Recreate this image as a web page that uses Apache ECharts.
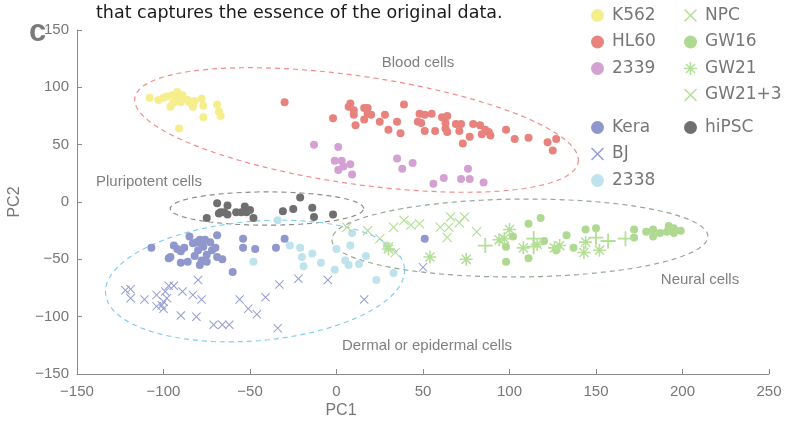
<!DOCTYPE html>
<html>
<head>
<meta charset="utf-8">
<script src="https://cdn.jsdelivr.net/npm/echarts@6/dist/echarts.min.js"></script>
<style>
html,body{margin:0;padding:0;background:#fff;}
#main{width:785px;height:424px;}
</style>
</head>
<body>
<div id="main"></div>
<script>
// ---------- data (PC1, PC2) ----------
const k562 = [[-108,91],[-103,89],[-100,91],[-98,92],[-95,93],[-93,92],[-92,96],[-90,87],[-96,83],[-89,93],[-86,89],[-85,87],[-83,83],[-82,88],[-78,90],[-77,84],[-77,74],[-69,85],[-68,79],[-67,75],[-91,64],[-90,92],[-94,87],[-83,86]];
const hl60 = [[-30,87],[-2,73],[8,86],[7,83],[10,80],[10,76],[11,67],[16,82],[18,82],[18,77],[16,72],[20,76],[25,70],[28,76],[30,63],[35,70],[37,60],[39,85],[48,77],[51,76],[55,77],[47,70],[49,69],[51,62],[57,62],[61,74],[64,75],[63,69],[63,64],[64,61],[69,68],[72,68],[71,62],[79,68],[83,67],[73,51],[77,57],[84,59],[86,63],[88,61],[89,58],[98,63],[103,55],[111,56],[122,52],[127,55],[125,45]];
const c2339 = [[-13,50],[1,48],[-1,36],[3,36],[4,31],[1,28],[8,33],[9,24],[35,38],[38,29],[44,34],[56,16],[62,21],[72,20],[77,20],[76,29],[85,17]];
const kera = [[-107,-40],[-94,-38],[-92,-41],[-90,-43],[-88,-40],[-85,-30],[-83,-36],[-81,-35],[-79,-33],[-78,-36],[-77,-39],[-76,-33],[-80,-42],[-82,-47],[-86,-52],[-90,-53],[-97,-49],[-96,-48],[-79,-55],[-78,-51],[-75,-52],[-75,-46],[-73,-35],[-72,-42],[-69,-29],[-70,-40],[-69,-48],[-66,-50],[-60,-61],[-54,-32],[-54,-40],[-47,-41],[-35,-40],[-30,-32],[51,-32]];
const bj = [[-122,-77],[-119,-76],[-119,-84],[-111,-85],[-104,-81],[-104,-91],[-101,-90],[-100,-93],[-100,-87],[-99,-78],[-98,-84],[-97,-73],[-94,-73],[-89,-78],[-83,-81],[-78,-85],[-80,-68],[-90,-99],[-81,-100],[-71,-107],[-66,-107],[-62,-107],[-56,-85],[-51,-93],[-46,-98],[-41,-83],[-33,-72],[-22,-67],[-5,-68],[-34,-110],[16,-85],[50,-57]];
const c2338 = [[-48,-52],[-34,-16],[-27,-38],[-21,-40],[-20,-48],[-14,-45],[-19,-56],[-9,-53],[-1,-59],[0,-41],[5,-51],[7,-55],[8,-38],[9,-27],[13,-54],[17,-47],[23,-68],[33,-62],[29,-38]];
const npc = [[6,-22],[18,-25],[25,-32],[30,-39],[34,-44],[33,-22],[39,-16],[43,-20],[48,-19],[60,-22],[65,-22],[66,-13],[64,-31],[71,-18],[74,-13],[81,-26]];
const gw16 = [[118,-14],[111,-19],[102,-30],[98,-39],[98,-52],[111,-49],[120,-34],[133,-29],[137,-40],[144,-24],[150,-23],[127,-42],[172,-24],[172,-31],[179,-26],[183,-24],[183,-30],[187,-27],[191,-26],[192,-21],[195,-23],[195,-27],[199,-25]];
const gw21 = [[30,-41],[54,-48],[75,-50],[100,-24],[94,-33],[97,-32],[108,-40],[116,-37],[126,-40],[129,-38],[144,-35],[143,-44],[152,-42]];
const gw21p3 = [[86,-38],[114,-32],[114,-39],[150,-31],[157,-34],[167,-32]];
const hipsc = [[-75,-14],[-69,-1],[-67,-9],[-68,-10],[-65,-9],[-63,-3],[-63,-11],[-58,-9],[-55,-9],[-53,-4],[-52,-9],[-50,-7],[-48,-14],[-31,-8],[-25,-6],[-21,4],[-14,-5],[-13,-13],[-2,-11]];

// ellipses: [centerX, centerY, semiA, semiB (x-units), screen angle deg]
const ellipseNames = ['Blood cells','Pluripotent cells','Dermal or epidermal cells','Neural cells'];
const ellipseParams = [[11.6,62.8,129.5,31.2,-8.2],[-40.2,-5.7,56,9.6,0],[-47.1,-68.9,86.7,34.5,4.8],[106,-31.4,108.7,22.5,0.5]];
const ellipseColors = ['#f28c8c','#8c8c8c','#7fd0ee','#94a894'];

const xTicks = [-150,250,50];
const yTicks = [-150,150,50];

// ---------- symbols ----------
const SYM_X = 'path://M0,0.8L0.8,0L5,4.2L9.2,0L10,0.8L5.8,5L10,9.2L9.2,10L5,5.8L0.8,10L0,9.2L4.2,5Z';
const SYM_STAR = 'path://M0,4.4L10,4.4L10,5.6L0,5.6ZM4.4,0L5.6,0L5.6,10L4.4,10ZM1.1,1.9L1.9,1.1L8.9,8.1L8.1,8.9ZM8.1,1.1L8.9,1.9L1.9,8.9L1.1,8.1Z';
const SYM_PLUS = 'path://M4.4,0L5.6,0L5.6,4.4L10,4.4L10,5.6L5.6,5.6L5.6,10L4.4,10L4.4,5.6L0,5.6L0,4.4L4.4,4.4Z';

const chart = echarts.init(document.getElementById('main'));
const xScale = 1.73 / 1.146; // screen aspect: y-units per x-unit

function ellipsePoints(p) {
  const [cx, cy, a, b, deg] = p;
  const th = deg * Math.PI / 180;
  const pts = [];
  for (let i = 0; i <= 120; i++) {
    const t = i / 120 * 2 * Math.PI;
    const dx = a * Math.cos(t) * Math.cos(th) - b * Math.sin(t) * Math.sin(th);
    const dy = a * Math.cos(t) * Math.sin(th) + b * Math.sin(t) * Math.cos(th);
    pts.push([cx + dx, cy + dy * xScale]);
  }
  return pts;
}

function sc(name, data, color, symbol, size) {
  return {name, type:'scatter', data, symbol, symbolSize:size, itemStyle:{color, opacity:1}, z:3, emphasis:{disabled:true}};
}

const series = [];
ellipseParams.forEach((p, i) => {
  series.push({name: ellipseNames[i], type:'line', data: ellipsePoints(p), showSymbol:false, symbol:'none', silent:true, z:2,
    lineStyle:{color: ellipseColors[i], width:1.2, type:[5,4]}});
});
series.push(sc('K562', k562, '#f6ee8c', 'circle', 8));
series.push(sc('HL60', hl60, '#e8827d', 'circle', 8));
series.push(sc('2339', c2339, '#d4a2d2', 'circle', 8));
series.push(sc('Kera', kera, '#8f97cc', 'circle', 8));
series.push(sc('BJ', bj, '#959dd2', SYM_X, 9));
series.push(sc('2338', c2338, '#bfe3ed', 'circle', 8));
series.push(sc('NPC', npc, '#b4df96', SYM_X, 10));
series.push(sc('GW16', gw16, '#afd991', 'circle', 8));
series.push(sc('GW21', gw21, '#b4df96', SYM_STAR, 13));
series.push(sc('GW21+3', gw21p3, '#b4df96', SYM_PLUS, 15));
series.push(sc('hiPSC', hipsc, '#6f6f6f', 'circle', 8));

const legendBase = {orient:'vertical', selectedMode:false, itemWidth:13, itemHeight:13, itemGap:9.5,
  textStyle:{fontFamily:'DejaVu Sans', fontSize:17, color:'#777', padding:[0,0,0,3]}};
function L(items, left, top) {
  return Object.assign({}, legendBase, {left, top, data: items.map(([n, ic]) => ({name:n, icon:ic}))});
}

const fmt = v => String(v).replace('-', '\u2212');
const axisCommon = {
  axisLine:{show:true, onZero:false, lineStyle:{color:'#8a8a8a', width:1}},
  axisTick:{show:true, inside:true, length:5, lineStyle:{color:'#8a8a8a'}},
  splitLine:{show:false}
};
const labelStyle = {color:'#777', fontFamily:'Liberation Sans', fontSize:15, formatter:fmt};

const option = {
  backgroundColor:'#fff',
  animation:false,
  grid:{left:77, right:16, top:30, bottom:50},
  xAxis:Object.assign({type:'value', min:xTicks[0], max:xTicks[1], interval:xTicks[2]}, axisCommon,
    {axisLabel:Object.assign({}, labelStyle, {margin:10})}),
  yAxis:Object.assign({type:'value', min:yTicks[0], max:yTicks[1], interval:yTicks[2]}, axisCommon,
    {axisLabel:Object.assign({}, labelStyle, {margin:8})}),
  legend:[
    L([['K562','circle'],['HL60','circle'],['2339','circle']], 586, 2),
    L([['Kera','circle'],['BJ',SYM_X],['2338','circle']], 586, 114),
    L([['NPC',SYM_X],['GW16','circle'],['GW21',SYM_STAR],['GW21+3',SYM_X]], 679, 2),
    L([['hiPSC','circle']], 679, 114)
  ],
  graphic:[
    {type:'text', left:96, top:4, style:{text:'that captures the essence of the original data.', fontFamily:'DejaVu Sans', fontSize:17.5, fill:'#1a1a1a'}},
    {type:'text', left:29, top:17, style:{text:'c', fontFamily:'Liberation Sans', fontWeight:'bold', fontSize:31, fill:'#7a7a7a'}},
    {type:'text', x:418, y:63, style:{text:'Blood cells', fontFamily:'Liberation Sans', fontSize:15, fill:'#808080', align:'center', verticalAlign:'middle'}},
    {type:'text', x:96, y:182, style:{text:'Pluripotent cells', fontFamily:'Liberation Sans', fontSize:15, fill:'#808080', align:'left', verticalAlign:'middle'}},
    {type:'text', x:700, y:280, style:{text:'Neural cells', fontFamily:'Liberation Sans', fontSize:15, fill:'#808080', align:'center', verticalAlign:'middle'}},
    {type:'text', x:427, y:346, style:{text:'Dermal or epidermal cells', fontFamily:'Liberation Sans', fontSize:15, fill:'#808080', align:'center', verticalAlign:'middle'}},
    {type:'text', x:341, y:411, style:{text:'PC1', fontFamily:'Liberation Sans', fontSize:16, fill:'#777', align:'center', verticalAlign:'middle'}},
    {type:'text', x:15, y:202, rotation:Math.PI/2, style:{text:'PC2', fontFamily:'Liberation Sans', fontSize:16, fill:'#777', align:'center', verticalAlign:'middle'}}
  ],
  series
};
chart.setOption(option);
</script>
</body>
</html>
